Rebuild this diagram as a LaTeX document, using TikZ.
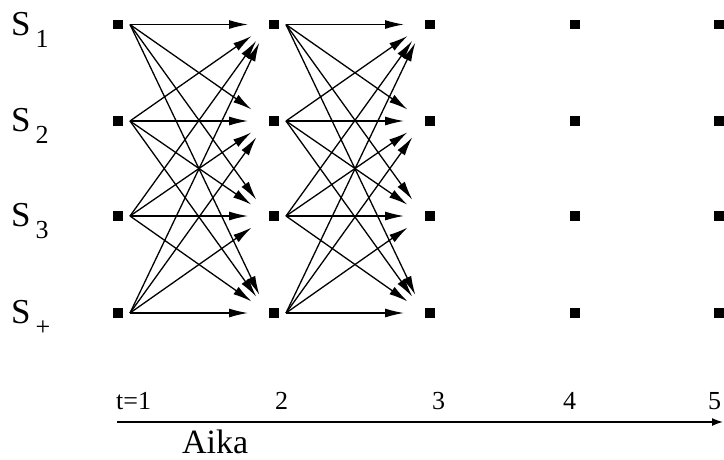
\documentclass[tikz,border=0pt]{standalone}
\usepackage{fontspec}
\setmainfont{Liberation Serif}
\usetikzlibrary{arrows.meta}
\tikzset{
  dot/.style={fill=black,draw=none,rectangle,minimum size=9.5pt,inner sep=0pt},
  trans/.style={line width=1.3pt,-{Latex[length=19pt,width=9pt]},shorten >=20pt},
  axis/.style={line width=1.5pt,-{Latex[length=11pt,width=8pt]}},
  slab/.style={anchor=base west,inner sep=0pt},
  tlab/.style={anchor=base west,inner sep=0pt,font=\fontsize{26}{26}\selectfont},
}
\newcommand{\Slabel}[1]{{\fontsize{35}{35}\selectfont S}\hspace{5pt}\raisebox{-12pt}{\fontsize{26}{26}\selectfont #1}}
\begin{document}
\begin{tikzpicture}[x=1pt,y=-1pt]
\useasboundingbox (0,0) rectangle (724,459);
% dots
\foreach \c/\x in {1/118,2/274,3/430,4/575,5/719}{
  \foreach \r/\y in {1/24.5,2/121,3/216,4/313}{
    \node[dot] (d-\c-\r) at (\x,\y) {};
    \coordinate (o-\c-\r) at ([xshift=12pt]d-\c-\r.center);
    \coordinate (i-\c-\r) at ([xshift=-6pt]d-\c-\r.center);
  }
}
% transitions
\foreach \c/\n in {1/2,2/3}{
  \foreach \r in {1,2,3,4}{
    \foreach \s in {1,2,3,4}{
      \draw[trans] (o-\c-\r) -- (i-\n-\s);
    }
  }
}
% state labels
\node[slab] (s1) at (11,35) {\Slabel{1}};
\node[slab] (s2) at (11,131.5) {\Slabel{2}};
\node[slab] (s3) at (11,226.5) {\Slabel{3}};
\node[slab] (s4) at (11,323.5) {\Slabel{+}};
% time axis
\coordinate (ax0) at (117,422);
\coordinate (ax1) at (723,422);
\draw[axis] (ax0) -- (ax1);
\node[tlab] (t1) at (116,409) {t=1};
\node[tlab] (t2) at (275,409) {2};
\node[tlab] (t3) at (432,409) {3};
\node[tlab] (t4) at (563,409) {4};
\node[tlab] (t5) at (708,409) {5};
\node[slab,font=\fontsize{34}{34}\selectfont] (aika) at (182,453) {Aika};
\end{tikzpicture}
\end{document}
